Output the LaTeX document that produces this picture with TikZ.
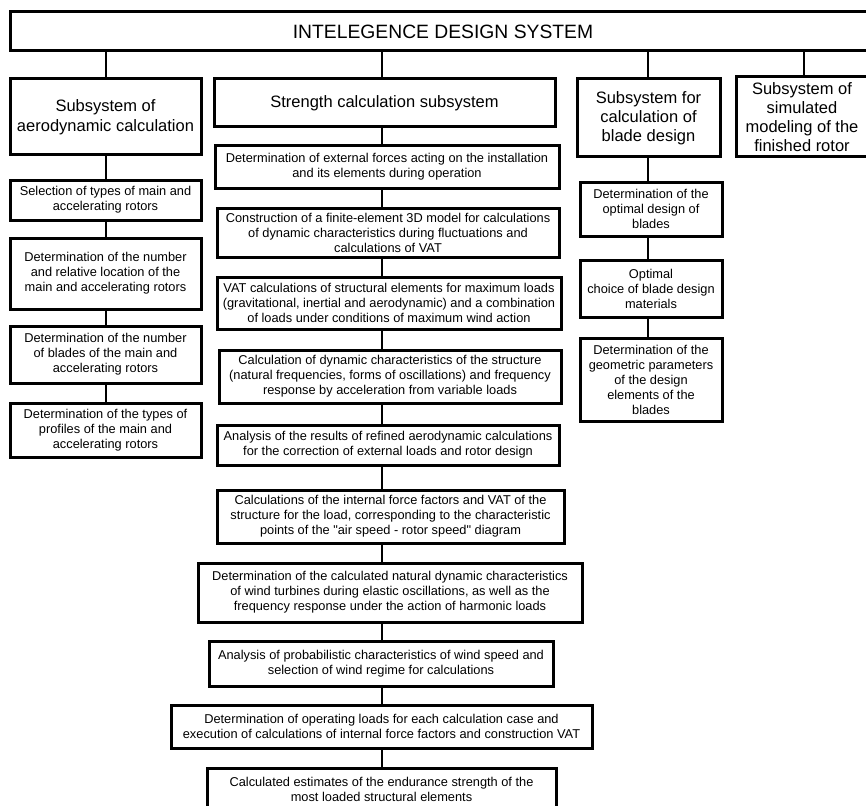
\documentclass[tikz,border=0pt]{standalone}
\usepackage{fontspec}
\setmainfont{Liberation Sans}[Ligatures=TeXOff]

\begin{document}
\begin{tikzpicture}[x=1pt,y=-1pt,
   box/.style={draw,line width=3pt,align=center,inner sep=0pt,
               font=\fontsize{12.8}{15}\selectfont},
   subbox/.style={box,font=\fontsize{16.5}{19}\selectfont},
   link/.style={line width=1.2pt}]
   \useasboundingbox (0,0) rectangle (866,805);
   \clip (0,0) rectangle (866,805);
   % spines
   \coordinate (ax) at (106,0);
   \coordinate (sx) at (382,0);
   \coordinate (bx) at (648,0);
   \coordinate (mx) at (804,0);
   % top
   \node[box,font=\fontsize{19.3}{22}\selectfont,minimum width=866pt,minimum height=39pt] (top) at (443,31.5) {INTELEGENCE DESIGN SYSTEM};
   % subsystems
   \node[subbox,font=\fontsize{16.5}{20.5}\selectfont,minimum width=191pt,minimum height=76pt] (aero) at (105.5,117) {Subsystem of\\aerodynamic calculation};
   \node[subbox,minimum width=341pt,minimum height=48pt] (str) at (384.5,103) {Strength calculation subsystem};
   \node[subbox,minimum width=143pt,minimum height=78pt] (blade) at (648.5,118) {Subsystem for\\calculation of\\blade design};
   \node[subbox,minimum width=132pt,minimum height=80pt] (sim) at (802,117) {Subsystem of\\simulated\\modeling of the\\finished rotor};
   % aerodynamic
   \node[box,minimum width=191pt,minimum height=40pt] (a1) at (105.5,200) {Selection of types of main and\\accelerating rotors};
   \node[box,minimum width=191pt,minimum height=71pt] (a2) at (105.5,273.5) {Determination of the number\\and relative location of the\\main and accelerating rotors};
   \node[box,minimum width=191pt,minimum height=57pt] (a3) at (105.5,354.5) {Determination of the number\\of blades of the main and\\accelerating rotors};
   \node[box,minimum width=191pt,minimum height=54pt] (a4) at (105.5,430) {Determination of the types of\\profiles of the main and\\accelerating rotors};
   % strength
   \node[box,minimum width=344pt,minimum height=42pt] (s1) at (387,167) {Determination of external forces acting on the installation\\and its elements during operation};
   \node[box,minimum width=342pt,minimum height=49pt] (s2) at (388,232.5) {Construction of a finite-element 3D model for calculations\\of dynamic characteristics during fluctuations and\\calculations of VAT};
   \node[box,minimum width=344pt,minimum height=52pt] (s3) at (389,303) {VAT calculations of structural elements for maximum loads\\(gravitational, inertial and aerodynamic) and a combination\\of loads under conditions of maximum wind action};
   \node[box,minimum width=342pt,minimum height=53pt] (s4) at (390,376.5) {Calculation of dynamic characteristics of the structure\\(natural frequencies, forms of oscillations) and frequency\\response by acceleration from variable loads};
   \node[box,minimum width=342pt,minimum height=40pt] (s5) at (388,445) {Analysis of the results of refined aerodynamic calculations\\for the correction of external loads and rotor design};
   \node[box,minimum width=347pt,minimum height=53pt] (s6) at (390.5,516.5) {Calculations of the internal force factors and VAT of the\\structure for the load, corresponding to the characteristic\\points of the "air speed - rotor speed" diagram};
   \node[box,minimum width=384pt,minimum height=59pt] (s7) at (390,592.5) {Determination of the calculated natural dynamic characteristics\\of wind turbines during elastic oscillations, as well as the\\frequency response under the action of harmonic loads};
   \node[box,minimum width=344pt,minimum height=45pt] (s8) at (381,663.5) {Analysis of probabilistic characteristics of wind speed and\\selection of wind regime for calculations};
   \node[box,minimum width=421pt,minimum height=43pt] (s9) at (381.5,726.5) {Determination of operating loads for each calculation case and\\execution of calculations of internal force factors and construction VAT};
   \node[box,minimum width=349pt,minimum height=42pt] (s10) at (381.5,789) {Calculated estimates of the endurance strength of the\\most loaded structural elements};
   % blade design
   \node[box,minimum width=142pt,minimum height=54pt] (b1) at (651,209) {Determination of the\\optimal design of\\blades};
   \node[box,minimum width=142pt,minimum height=57pt] (b2) at (651,288.5) {Optimal\\choice of blade design\\materials};
   \node[box,minimum width=142pt,minimum height=83pt] (b3) at (651,379.5) {Determination of the\\geometric parameters\\of the design\\elements of the\\blades};
   % connectors
   \path[link] (top.south -| ax) edge (aero.north -| ax)  (top.south -| sx) edge (str.north -| sx)
               (top.south -| bx) edge (blade.north -| bx) (top.south -| mx) edge (sim.north -| mx);
   \path[link] (aero.south -| ax) edge (a1.north -| ax) (a1.south -| ax) edge (a2.north -| ax)
               (a2.south -| ax) edge (a3.north -| ax) (a3.south -| ax) edge (a4.north -| ax);
   \path[link] (str.south -| sx) edge (s1.north -| sx) (s1.south -| sx) edge (s2.north -| sx)
               (s2.south -| sx) edge (s3.north -| sx) (s3.south -| sx) edge (s4.north -| sx)
               (s4.south -| sx) edge (s5.north -| sx) (s5.south -| sx) edge (s6.north -| sx)
               (s6.south -| sx) edge (s7.north -| sx) (s7.south -| sx) edge (s8.north -| sx)
               (s8.south -| sx) edge (s9.north -| sx) (s9.south -| sx) edge (s10.north -| sx);
   \path[link] (blade.south -| bx) edge (b1.north -| bx) (b1.south -| bx) edge (b2.north -| bx)
               (b2.south -| bx) edge (b3.north -| bx);
\end{tikzpicture}
\end{document}
